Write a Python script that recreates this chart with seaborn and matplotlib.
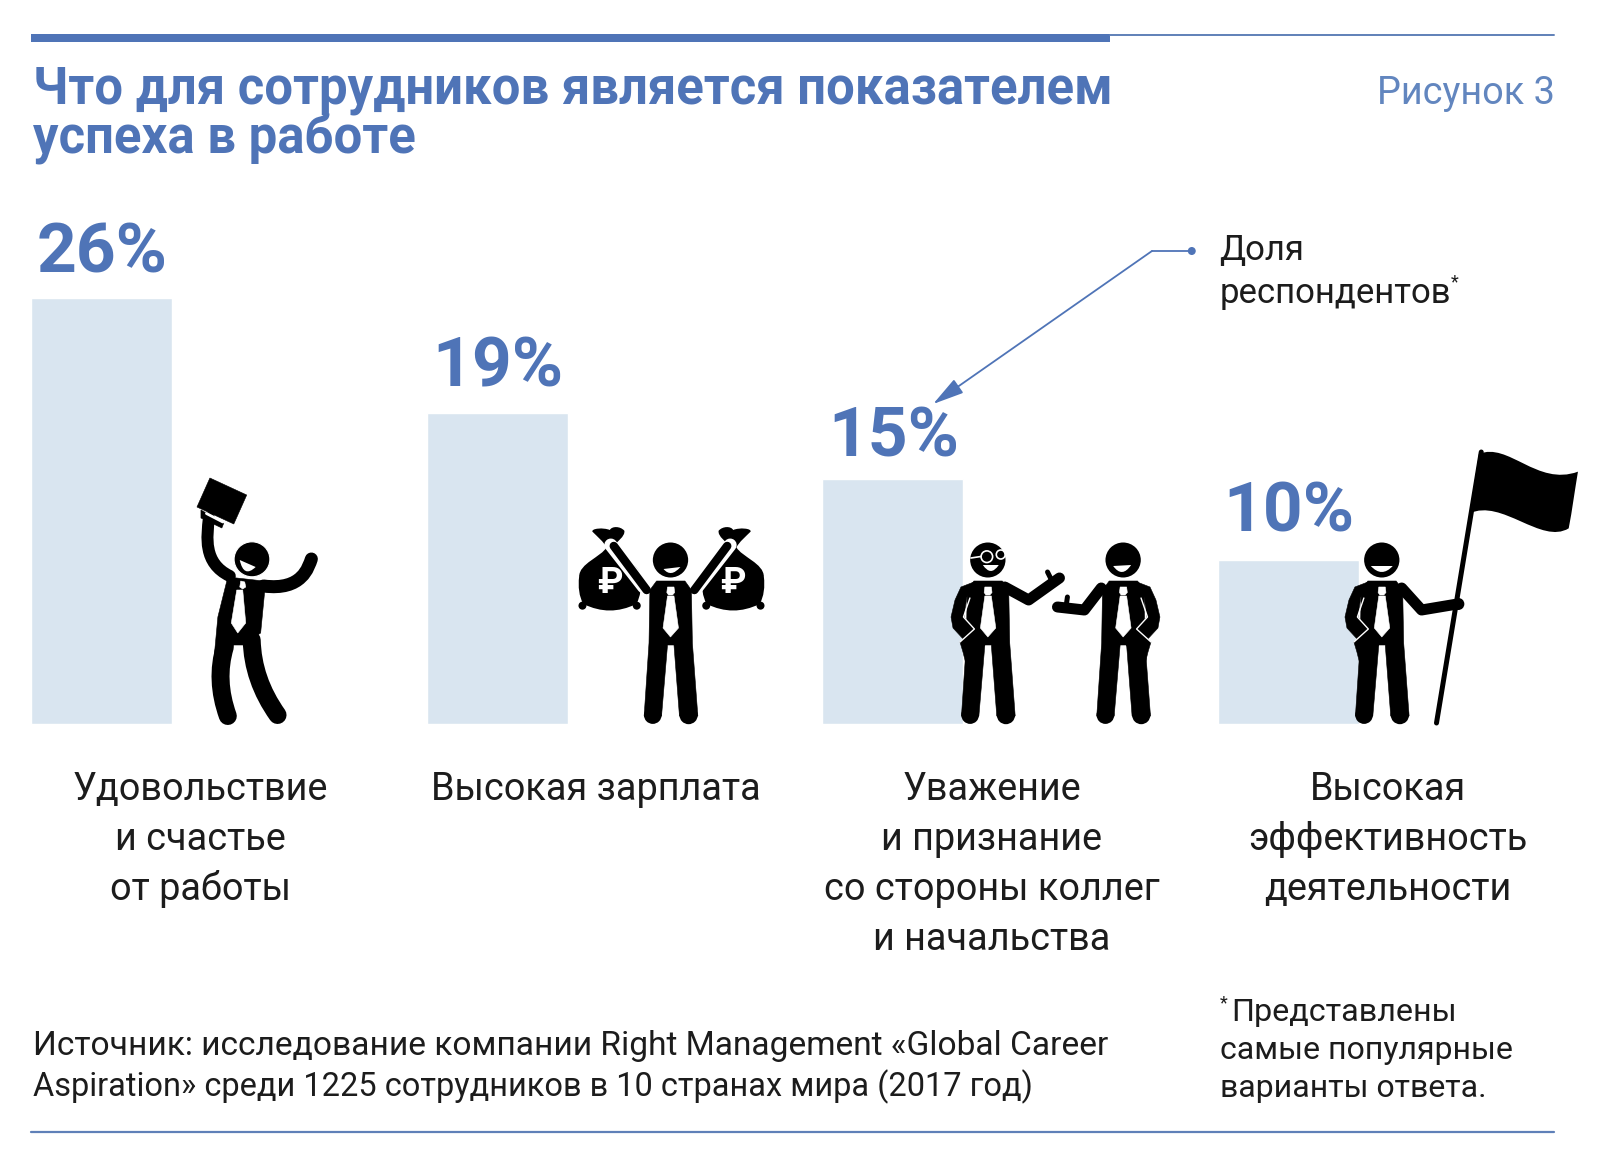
import matplotlib
matplotlib.use("Agg")
import matplotlib.pyplot as plt
import seaborn as sns
from matplotlib.patches import Ellipse, PathPatch, Polygon, Rectangle, Circle
from matplotlib.path import Path

# %% data
categories = ["Удовольствие", "Высокая зарплата", "Уважение", "Высокая эффективность"]
shares = [26, 19, 15, 10]
category_lines = [
    ["Удовольствие", "и счастье", "от работы"],
    ["Высокая зарплата"],
    ["Уважение", "и признание", "со стороны коллег", "и начальства"],
    ["Высокая", "эффективность", "деятельности"],
]
title_lines = ["Что для сотрудников является показателем", "успеха в работе"]
figure_tag = "Рисунок 3"
callout_lines = ["Доля", "респондентов"]
source_lines = [
    "Источник: исследование компании Right Management «Global Career",
    "Aspiration» среди 1225 сотрудников в 10 странах мира (2017 год)",
]
note_lines = ["Представлены", "самые популярные", "варианты ответа."]

# %% style
BLUE = "#4f74b7"
TAG_BLUE = "#6286bf"
RULE = "#5f80b8"
BAR = "#d9e5f0"
INK = "#1c1c1c"
W, H = 1618, 1167
PX = 0.72  # px -> pt at dpi 100
label_gaps = [26, 27, 22, 29]
source_sizes = [24.1, 23.45]

sns.set_theme(style="white")
plt.rcParams["font.family"] = ["Roboto", "DejaVu Sans"]

fig = plt.figure(figsize=(W / 100, H / 100), dpi=100, facecolor="white")

# %% bars
bar_top, bar_bottom = 298.5, 724
first_center, step = 101.5, 395.7
ax = fig.add_axes([0, (H - bar_bottom) / H, 1, (bar_bottom - bar_top) / H])
sns.barplot(x=categories, y=shares, color=BAR, saturation=1, width=141 / step, ax=ax)
ax.set_xlim(-first_center / step, (W - first_center) / step)
ax.set_ylim(0, 26)
ax.axis("off")

for i, v in enumerate(shares):
    ax.annotate(f"{v}%", xy=(i, v), xytext=(0.5, label_gaps[i] * PX), textcoords="offset points",
                ha="center", va="baseline", fontsize=50, fontweight="bold", color=BLUE,
                annotation_clip=False)
    for j, line in enumerate(category_lines[i]):
        ax.annotate(line, xy=(i + 0.25, 0), xytext=(0, -(76 + 50 * j) * PX),
                    textcoords="offset points", ha="center", va="baseline",
                    fontsize=27.3, color=INK, annotation_clip=False)

# %% overlay in pixels
ov = fig.add_axes([0, 0, 1, 1], facecolor="none")
ov.set_xlim(0, W / 0.9948)  # x values below were read on a slightly wider grid
ov.set_ylim(H, 0)
ov.axis("off")


def put(x, y, s, size, color=INK, **kw):
    ov.text(x, y, s, fontsize=size, color=color, va="baseline", **kw)


def curve(points, width, color="black", z=5, bent=False):
    if bent:
        codes = [Path.MOVETO] + [Path.LINETO] * (len(points) - 1)
    else:
        codes = {2: [Path.MOVETO, Path.LINETO],
                 3: [Path.MOVETO, Path.CURVE3, Path.CURVE3],
                 4: [Path.MOVETO, Path.CURVE4, Path.CURVE4, Path.CURVE4]}[len(points)]
    ov.add_patch(PathPatch(Path(points, codes), fill=False, lw=width * PX, ec=color,
                           capstyle="round", joinstyle="round", zorder=z))


def poly(points, color="black", z=5):
    ov.add_patch(Polygon(points, closed=True, fc=color, ec=color, lw=0.4, zorder=z))


def smile(p1, p2, low, z=7):
    mid = ((p1[0] + p2[0]) / 2, (p1[1] + p2[1]) / 2)
    ctrl = (2 * low[0] - mid[0], 2 * low[1] - mid[1])
    path = Path([p1, ctrl, p2, p1], [Path.MOVETO, Path.CURVE3, Path.CURVE3, Path.CLOSEPOLY])
    ov.add_patch(PathPatch(path, fc="white", ec="none", zorder=z))


def tie(cx):
    poly([(cx - 3, 587), (cx + 3.5, 587), (cx + 4.2, 592.5), (cx + 2, 595),
          (cx - 2, 595), (cx - 3.7, 592.5)], "white", 7)
    poly([(cx - 3, 596), (cx + 3.5, 596), (cx + 8, 628), (cx, 637), (cx - 7.5, 628)], "white", 7)


def body(cx):
    ov.add_patch(Ellipse((cx, 560), 35.5, 35, fc="black", ec="none", zorder=5))
    poly([(cx - 14, 581), (cx + 14.5, 581), (cx + 21, 590), (cx + 22, 643), (cx + 27.5, 716),
          (cx + 9, 716), (cx + 3.5, 645), (cx - 3, 645), (cx - 9, 716), (cx - 26.5, 716),
          (cx - 21.6, 643), (cx - 20.7, 590)])
    ov.add_patch(Circle((cx - 17.8, 715), 8.9, fc="black", ec="none", zorder=5))
    ov.add_patch(Circle((cx + 18.2, 715), 9.2, fc="black", ec="none", zorder=5))
    tie(cx)


def pocket_arm(cx, side=-1):
    s = side * -1
    p = lambda dx, y: (cx - s * dx, y)
    poly([p(14, 582), p(27, 587), p(33, 600), p(37, 617), p(35, 628), p(22, 642), p(14, 630),
          p(24, 617), p(21, 597)])
    poly([p(28, 642), p(14, 630), p(3, 645), p(21, 668), p(25, 652)])
    ov.plot(*zip(p(18, 598), p(24.5, 617), p(13.5, 629), p(28, 642)), color="white", lw=1, zorder=6)


# %% man 1, briefcase
poly([(211, 478), (248, 495), (235, 524), (198, 507)])
poly([(202, 510), (225, 523), (223, 528), (202, 518)])
ov.plot([207.5, 224], [513.5, 522], color="white", lw=2, zorder=6)
curve([(231, 576), (204, 563), (208, 537), (210, 518)], 12)
curve([(265, 586), (304, 591), (310, 567), (313, 559)], 13)
poly([(229, 577), (265, 581), (266, 592), (262, 633), (244, 645), (235, 645), (215, 660), (219, 617)])
curve([(226, 647), (216, 680), (229, 716)], 18)
curve([(253, 640), (254, 680), (279, 715)], 18)
ov.add_patch(Ellipse((253.3, 559.3), 36, 35, fc="black", ec="white", lw=0.8, zorder=6))
smile((241, 560), (257, 567), (247, 571))
poly([(242, 581), (246, 582), (247, 587), (244, 589), (241, 587)], "white", 7)
poly([(238, 590), (244, 590), (247, 623), (239, 633), (232.5, 623)], "white", 7)


# %% man 2, money bags
def bag(cx, flip=1):
    p = lambda X, Y: (cx + flip * X / 2.4, 460 + Y / 3)
    verts = [p(-8, 262),
             p(-20, 290), p(-74, 310), p(-74, 350),
             p(-77, 380), p(-74, 410), p(-64, 432),
             p(-20, 458), p(20, 458), p(64, 432),
             p(74, 410), p(77, 380), p(74, 350),
             p(72, 310), p(20, 290), p(8, 262),
             p(15, 245), p(38, 230), p(35, 212),
             p(25, 198), p(5, 198), p(0, 210),
             p(-15, 202), p(-45, 205), p(-42, 215),
             p(-30, 230), p(-15, 245), p(-8, 262),
             p(-8, 262)]
    codes = [Path.MOVETO] + [Path.CURVE4] * 27 + [Path.CLOSEPOLY]
    ov.add_patch(PathPatch(Path(verts, codes), fc="black", ec="none", zorder=4))
    for X in (-66, 65):
        ov.add_patch(Circle(p(X, 437), 4, fc="black", ec="none", zorder=4))
    ov.text(cx, 583, "₽", fontsize=26, fontweight="bold", color="white", ha="center",
            va="center", family=["Roboto", "DejaVu Sans"], zorder=8)


body(674)
bag(613)
bag(737, -1)
for sign in (-1, 1):
    curve([(674 + sign * 27, 587), (674 + sign * 60, 545)], 13, "white", 4.5)
    curve([(674 + sign * 24, 590), (674 + sign * 57, 546)], 8.5)
smile((667, 569), (684, 567), (675, 573))

# %% men 3 and 4
c3 = 993
body(c3)
pocket_arm(c3)
curve([(c3 + 17, 587), (c3 + 41, 600), (c3 + 72, 578)], 11, bent=True)
curve([(c3 + 60, 572), (c3 + 64, 580)], 5)
smile((c3 - 5, 565), (c3 + 11, 565), (c3 + 3, 571))
ov.add_patch(Circle((c3 - 1, 556.7), 5.8, fc="none", ec="white", lw=1.2, zorder=7))
ov.add_patch(Circle((c3 + 13, 554.5), 4.5, fc="none", ec="white", lw=1.2, zorder=7))
ov.plot([c3 - 17, c3 - 7], [558, 556.5], color="white", lw=1.2, zorder=7)

c4 = 1129
body(c4)
pocket_arm(c4, 1)
curve([(c4 - 22, 588), (c4 - 39, 610), (c4 - 66, 607)], 11, bent=True)
curve([(c4 - 56, 597), (c4 - 57, 604)], 5)
smile((c4 - 10, 566), (c4 + 8, 565), (c4 - 1, 572))

# %% man 5 and flag
c5 = 1389
body(c5)
pocket_arm(c5)
curve([(c5 + 20, 588), (c5 + 40, 610), (c5 + 76, 604)], 11, bent=True)
ov.add_patch(Circle((c5 + 77, 604), 6, fc="black", ec="none", zorder=6))
smile((c5 - 11, 566), (c5 + 11, 566), (c5, 572))
curve([(1489, 452), (1444, 723)], 5)
fp = lambda X, Y: (930 + X / 2.26, 430 + Y / 3)
flag = [fp(1258, 72), fp(1325, 35), fp(1390, 170), fp(1483, 125),
        fp(1476, 180), fp(1470, 240), fp(1462, 295),
        fp(1400, 345), fp(1310, 205), fp(1237, 250), fp(1258, 72)]
ov.add_patch(PathPatch(Path(flag, [Path.MOVETO] + [Path.CURVE4] * 9 + [Path.CLOSEPOLY]),
                       fc="black", ec="none", zorder=5))

# %% rules
ov.add_patch(Rectangle((31, 33.5), 1085, 8.5, fc=BLUE, ec="none"))
ov.plot([1116, 1562], [34.5, 34.5], color=RULE, lw=1.4)
ov.plot([31, 1562], [1132, 1132], color=RULE, lw=1.6)

# %% texts
for j, line in enumerate(title_lines):
    put(33, 103.5 + 50 * j, line, 36.65, BLUE, fontweight="bold")
put(1563, 103.5, figure_tag, 27.3, TAG_BLUE, ha="right")

for j, line in enumerate(callout_lines):
    put(1226, 260 + 43 * j, line, 25)
put(1458, 287, "*", 13)

for j, line in enumerate(source_lines):
    put(33, 1055 + 41 * j, line, source_sizes[j])

put(1226, 1008, "*", 13)
put(1238, 1021, note_lines[0], 23.2)
for j, line in enumerate(note_lines[1:]):
    put(1226, 1059 + 38 * j, line, 23)

# %% callout arrow
ov.plot([1198, 1158], [251, 251], color=BLUE, lw=1.3)
ov.add_patch(Circle((1198, 251), 4, fc=BLUE, ec="none"))
ov.annotate("", xy=(938, 404), xytext=(1158, 251),
            arrowprops=dict(arrowstyle="-|>,head_length=1.6,head_width=0.42", color=BLUE,
                            lw=1.3, shrinkA=0, shrinkB=0))

fig.savefig("out.png", dpi=100)
